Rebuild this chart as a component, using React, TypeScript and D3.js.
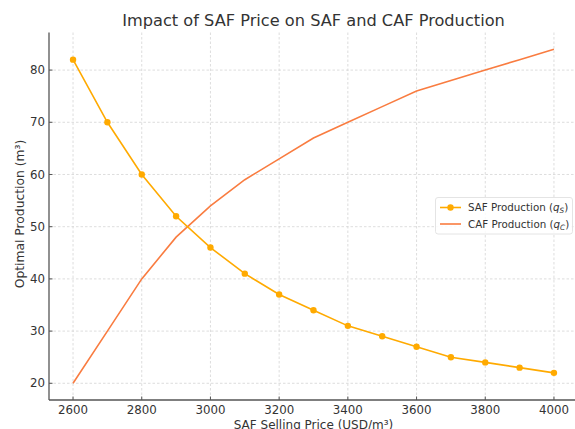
import React from "react";
import * as d3 from "d3";

const prices = [2600, 2700, 2800, 2900, 3000, 3100, 3200, 3300, 3400, 3500, 3600, 3700, 3800, 3900, 4000];
const safProduction = [82, 70, 60, 52, 46, 41, 37, 34, 31, 29, 27, 25, 24, 23, 22];
const cafProduction = [20, 30, 40, 48, 54, 59, 63, 67, 70, 73, 76, 78, 80, 82, 84];
const xTicks = [2600, 2800, 3000, 3200, 3400, 3600, 3800, 4000];
const yTicks = [20, 30, 40, 50, 60, 70, 80];

const W = 575, H = 429;
const left = 49, right = 578, top = 32.5, bottom = 400;
const FONT = "DejaVu Sans, sans-serif";
const SAF_COLOR = "#FFAA00";
const CAF_COLOR = "#F97C40";

export default function App() {
  const x = d3.scaleLinear().domain([2530, 4070]).range([left, right]);
  const y = d3.scaleLinear().domain([16.8, 87.2]).range([bottom, top]);
  const line = d3.line<[number, number]>().x(d => x(d[0])).y(d => y(d[1]));
  const safPts = prices.map((p, i) => [p, safProduction[i]] as [number, number]);
  const cafPts = prices.map((p, i) => [p, cafProduction[i]] as [number, number]);

  return (
    <svg width={W} height={H} style={{ position: "absolute", left: 0, top: 0, background: "#fff" }} fontFamily={FONT}>
      <rect width={W} height={H} fill="#fff" />
      {/* grid */}
      {xTicks.map(t => (
        <line key={"gx" + t} x1={x(t)} x2={x(t)} y1={top} y2={bottom} stroke="#d4d4d4" strokeWidth={0.8} strokeDasharray="2.5,2" />
      ))}
      {yTicks.map(t => (
        <line key={"gy" + t} x1={left} x2={right} y1={y(t)} y2={y(t)} stroke="#d4d4d4" strokeWidth={0.8} strokeDasharray="2.5,2" />
      ))}
      {/* spines */}
      <line x1={left} x2={left} y1={top} y2={bottom} stroke="#555" strokeWidth={1.3} />
      <line x1={left} x2={right} y1={bottom} y2={bottom} stroke="#555" strokeWidth={1.3} />
      {/* ticks */}
      {xTicks.map(t => (
        <g key={"tx" + t}>
          <line x1={x(t)} x2={x(t)} y1={bottom} y2={bottom - 3.5} stroke="#555" strokeWidth={1} />
          <text x={x(t)} y={414} textAnchor="middle" fontSize={11.8} fill="#333">{t}</text>
        </g>
      ))}
      {yTicks.map(t => (
        <g key={"ty" + t}>
          <line x1={left} x2={left + 3.5} y1={y(t)} y2={y(t)} stroke="#555" strokeWidth={1} />
          <text x={45} y={y(t) + 4.2} textAnchor="end" fontSize={11.8} fill="#333">{t}</text>
        </g>
      ))}
      {/* labels */}
      <text x={(left + right) / 2} y={26} textAnchor="middle" fontSize={16.2} fill="#333">Impact of SAF Price on SAF and CAF Production</text>
      <text x={(left + right) / 2} y={429} textAnchor="middle" fontSize={12} fill="#333">SAF Selling Price (USD/m³)</text>
      <text transform={`translate(24, ${214}) rotate(-90)`} textAnchor="middle" fontSize={12.3} fill="#333">Optimal Production (m³)</text>
      {/* series */}
      <path d={line(cafPts) || ""} fill="none" stroke={CAF_COLOR} strokeWidth={1.6} />
      <path d={line(safPts) || ""} fill="none" stroke={SAF_COLOR} strokeWidth={1.6} />
      {safPts.map((d, i) => (
        <circle key={"m" + i} cx={x(d[0])} cy={y(d[1])} r={3.2} fill={SAF_COLOR} />
      ))}
      {/* legend */}
      <g>
        <rect x={435.5} y={197.5} width={137} height={36.5} rx={2.5} fill="#fff" fillOpacity={0.85} stroke="#ddd" strokeWidth={0.8} />
        <line x1={440} x2={461} y1={207.5} y2={207.5} stroke={SAF_COLOR} strokeWidth={1.6} />
        <circle cx={450.5} cy={207.5} r={3.2} fill={SAF_COLOR} />
        <text x={468} y={211.3} fontSize={10.3} fill="#333">SAF Production (<tspan fontStyle="italic">q</tspan><tspan fontStyle="italic" fontSize={7.3} dy={2}>S</tspan><tspan dy={-2}>)</tspan></text>
        <line x1={440} x2={461} y1={224} y2={224} stroke={CAF_COLOR} strokeWidth={1.6} />
        <text x={468} y={227.8} fontSize={10.3} fill="#333">CAF Production (<tspan fontStyle="italic">q</tspan><tspan fontStyle="italic" fontSize={7.3} dy={2}>C</tspan><tspan dy={-2}>)</tspan></text>
      </g>
    </svg>
  );
}
